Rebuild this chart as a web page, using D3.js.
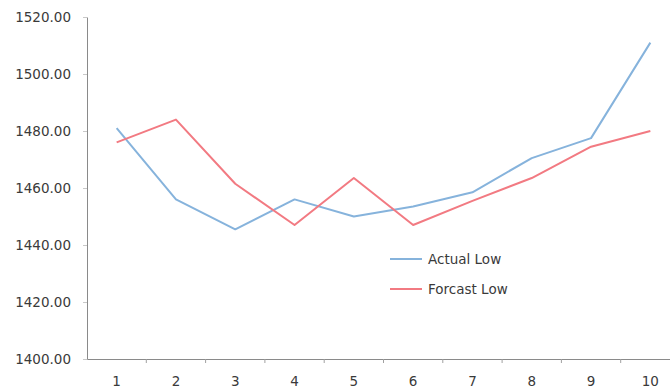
<!DOCTYPE html>
<html>
<head>
<meta charset="utf-8">
<script src="https://cdn.jsdelivr.net/npm/d3@7/dist/d3.min.js"></script>
<style>
  html, body { margin: 0; padding: 0; background: #fff; }
  svg { display: block; font-family: "DejaVu Sans", Verdana, sans-serif; }
</style>
</head>
<body>
<svg id="chart" width="670" height="390"></svg>
<script>
// Periods on the x axis
const periods = [1, 2, 3, 4, 5, 6, 7, 8, 9, 10];
// Actual and forecast daily lows
const actualLow = [1481, 1456, 1445.5, 1456, 1450, 1453.5, 1458.5, 1470.5, 1477.5, 1511];
const forcastLow = [1476, 1484, 1461.5, 1447, 1463.5, 1447, 1455.5, 1463.5, 1474.5, 1480];
// Y axis ticks
const yTicks = [1400, 1420, 1440, 1460, 1480, 1500, 1520];

const seriesNames = ["Actual Low", "Forcast Low"];
const seriesColors = ["#86b3dc", "#f27a82"];

const svg = d3.select("#chart");
const plot = { left: 87, right: 680, top: 17, bottom: 359 };

const x = d3.scaleBand().domain(periods).range([plot.left, plot.right]);
const y = d3.scaleLinear().domain([1400, 1520]).range([plot.bottom, plot.top]);

const axisColor = "#8a8a8a";
const textColor = "#3a3a3a";

// Y axis
const yAxis = svg.append("g")
  .attr("transform", `translate(${plot.left},0)`)
  .call(d3.axisLeft(y).tickValues(yTicks).tickFormat(d3.format(".2f")).tickSizeInner(4).tickSizeOuter(0).tickPadding(12));
yAxis.select(".domain").attr("stroke", axisColor);
yAxis.selectAll(".tick line").attr("stroke", "#c8c8c8");
yAxis.selectAll("text").attr("fill", textColor).attr("font-size", "13.5px")
  .attr("font-family", "DejaVu Sans, Verdana, sans-serif");

// X axis with ticks between categories
const xAxis = svg.append("g")
  .attr("transform", `translate(0,${plot.bottom})`)
  .call(d3.axisBottom(x).tickSize(0).tickPadding(17));
xAxis.select(".domain").attr("stroke", axisColor);
xAxis.selectAll("text").attr("fill", textColor).attr("font-size", "13.5px")
  .attr("font-family", "DejaVu Sans, Verdana, sans-serif");
xAxis.selectAll(".sep")
  .data(periods)
  .join("line")
  .attr("class", "sep")
  .attr("x1", d => x(d) + x.bandwidth())
  .attr("x2", d => x(d) + x.bandwidth())
  .attr("y1", 0).attr("y2", 4)
  .attr("stroke", "#a0a0a0");

// Lines
const line = d3.line()
  .x((d, i) => x(periods[i]) + x.bandwidth() / 2)
  .y(d => y(d));

[actualLow, forcastLow].forEach((vals, k) => {
  svg.append("path")
    .datum(vals)
    .attr("fill", "none")
    .attr("stroke", seriesColors[k])
    .attr("stroke-width", 2)
    .attr("stroke-linejoin", "round")
    .attr("d", line);
});

// Legend
const legend = svg.append("g").attr("transform", "translate(390,259)");
seriesNames.forEach((name, k) => {
  const g = legend.append("g").attr("transform", `translate(0,${k * 30})`);
  g.append("line").attr("x1", 0).attr("x2", 32).attr("y1", 0).attr("y2", 0)
    .attr("stroke", seriesColors[k]).attr("stroke-width", 2);
  g.append("text").attr("x", 38).attr("y", 0).attr("dy", "0.35em")
    .attr("fill", textColor).attr("font-size", "13.5px").text(name);
});
</script>
</body>
</html>
